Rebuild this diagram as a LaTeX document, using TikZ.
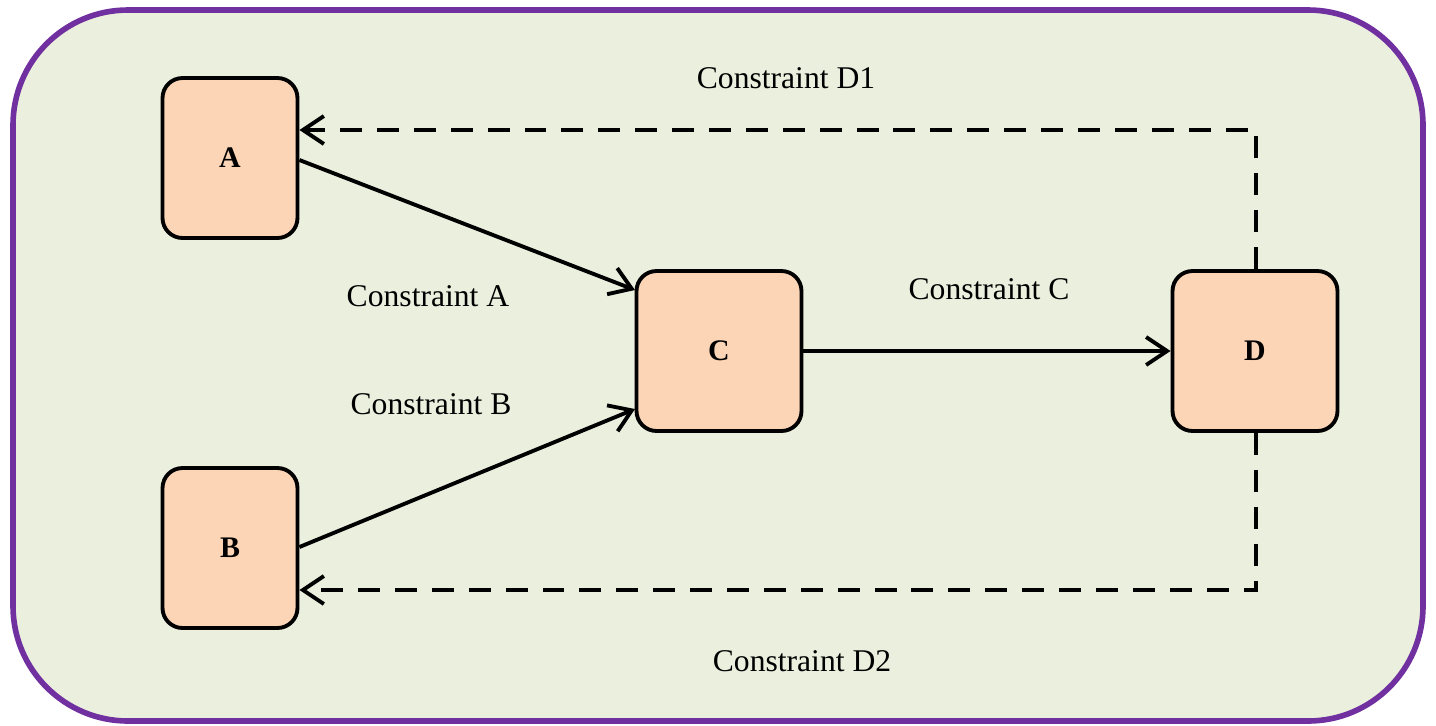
\documentclass[tikz,border=0pt]{standalone}
\usepackage{fontspec}
\setmainfont{Liberation Serif}
\usetikzlibrary{arrows.meta}

\definecolor{framepurple}{HTML}{7030A0}
\definecolor{framefill}{HTML}{EBEFDE}
\definecolor{boxfill}{HTML}{FBD5B5}

\tikzset{
  stagebox/.style={draw=black, line width=2.2pt, fill=boxfill, rounded corners=0.4cm,
    font=\fontsize{17}{20}\selectfont\bfseries},
  constr/.style={font=\fontsize{18}{21}\selectfont},
  link/.style={line width=2.2pt, -{Straight Barb[length=0.42cm, width=0.56cm, line width=2.2pt]}},
  feedback/.style={link, dash pattern=on 12.5pt off 8.5pt}
}

\begin{document}
\begin{tikzpicture}[x=0.02cm, y=-0.02cm]
  \useasboundingbox (0,0) rectangle (1436,725);
  \draw[framepurple, line width=3.2pt, fill=framefill, rounded corners=2.3cm]
    (13,10) rectangle (1423,721);

  \node (a) [stagebox, minimum width=2.7cm, minimum height=3.2cm] at (230,158) {A};
  \node (b) [stagebox, minimum width=2.7cm, minimum height=3.2cm] at (230,548) {B};
  \node (c) [stagebox, minimum width=3.3cm, minimum height=3.2cm] at (719,351) {C};
  \node (d) [stagebox, minimum width=3.3cm, minimum height=3.2cm] at (1255,351) {D};

  \coordinate (dup) at (1256,130);
  \coordinate (ddown) at (1256,590);

  \draw[link] (a.east |- 0,160) -- (635,290);
  \draw[link] (b.east |- 0,547) -- (635,409);
  \draw[link] (c.east) -- (d.west);
  \draw[feedback] (d.north -| dup) -- (dup) -- (a.east |- dup);
  \draw[feedback] (d.south -| ddown) -- (ddown) -- (b.east |- ddown);

  \node (la) [constr] at (428,296) {Constraint A};
  \node (lb) [constr] at (431,404) {Constraint B};
  \node (lc) [constr] at (989,289) {Constraint C};
  \node (ld1) [constr] at (786,78) {Constraint D1};
  \node (ld2) [constr] at (802,661) {Constraint D2};
\end{tikzpicture}
\end{document}
